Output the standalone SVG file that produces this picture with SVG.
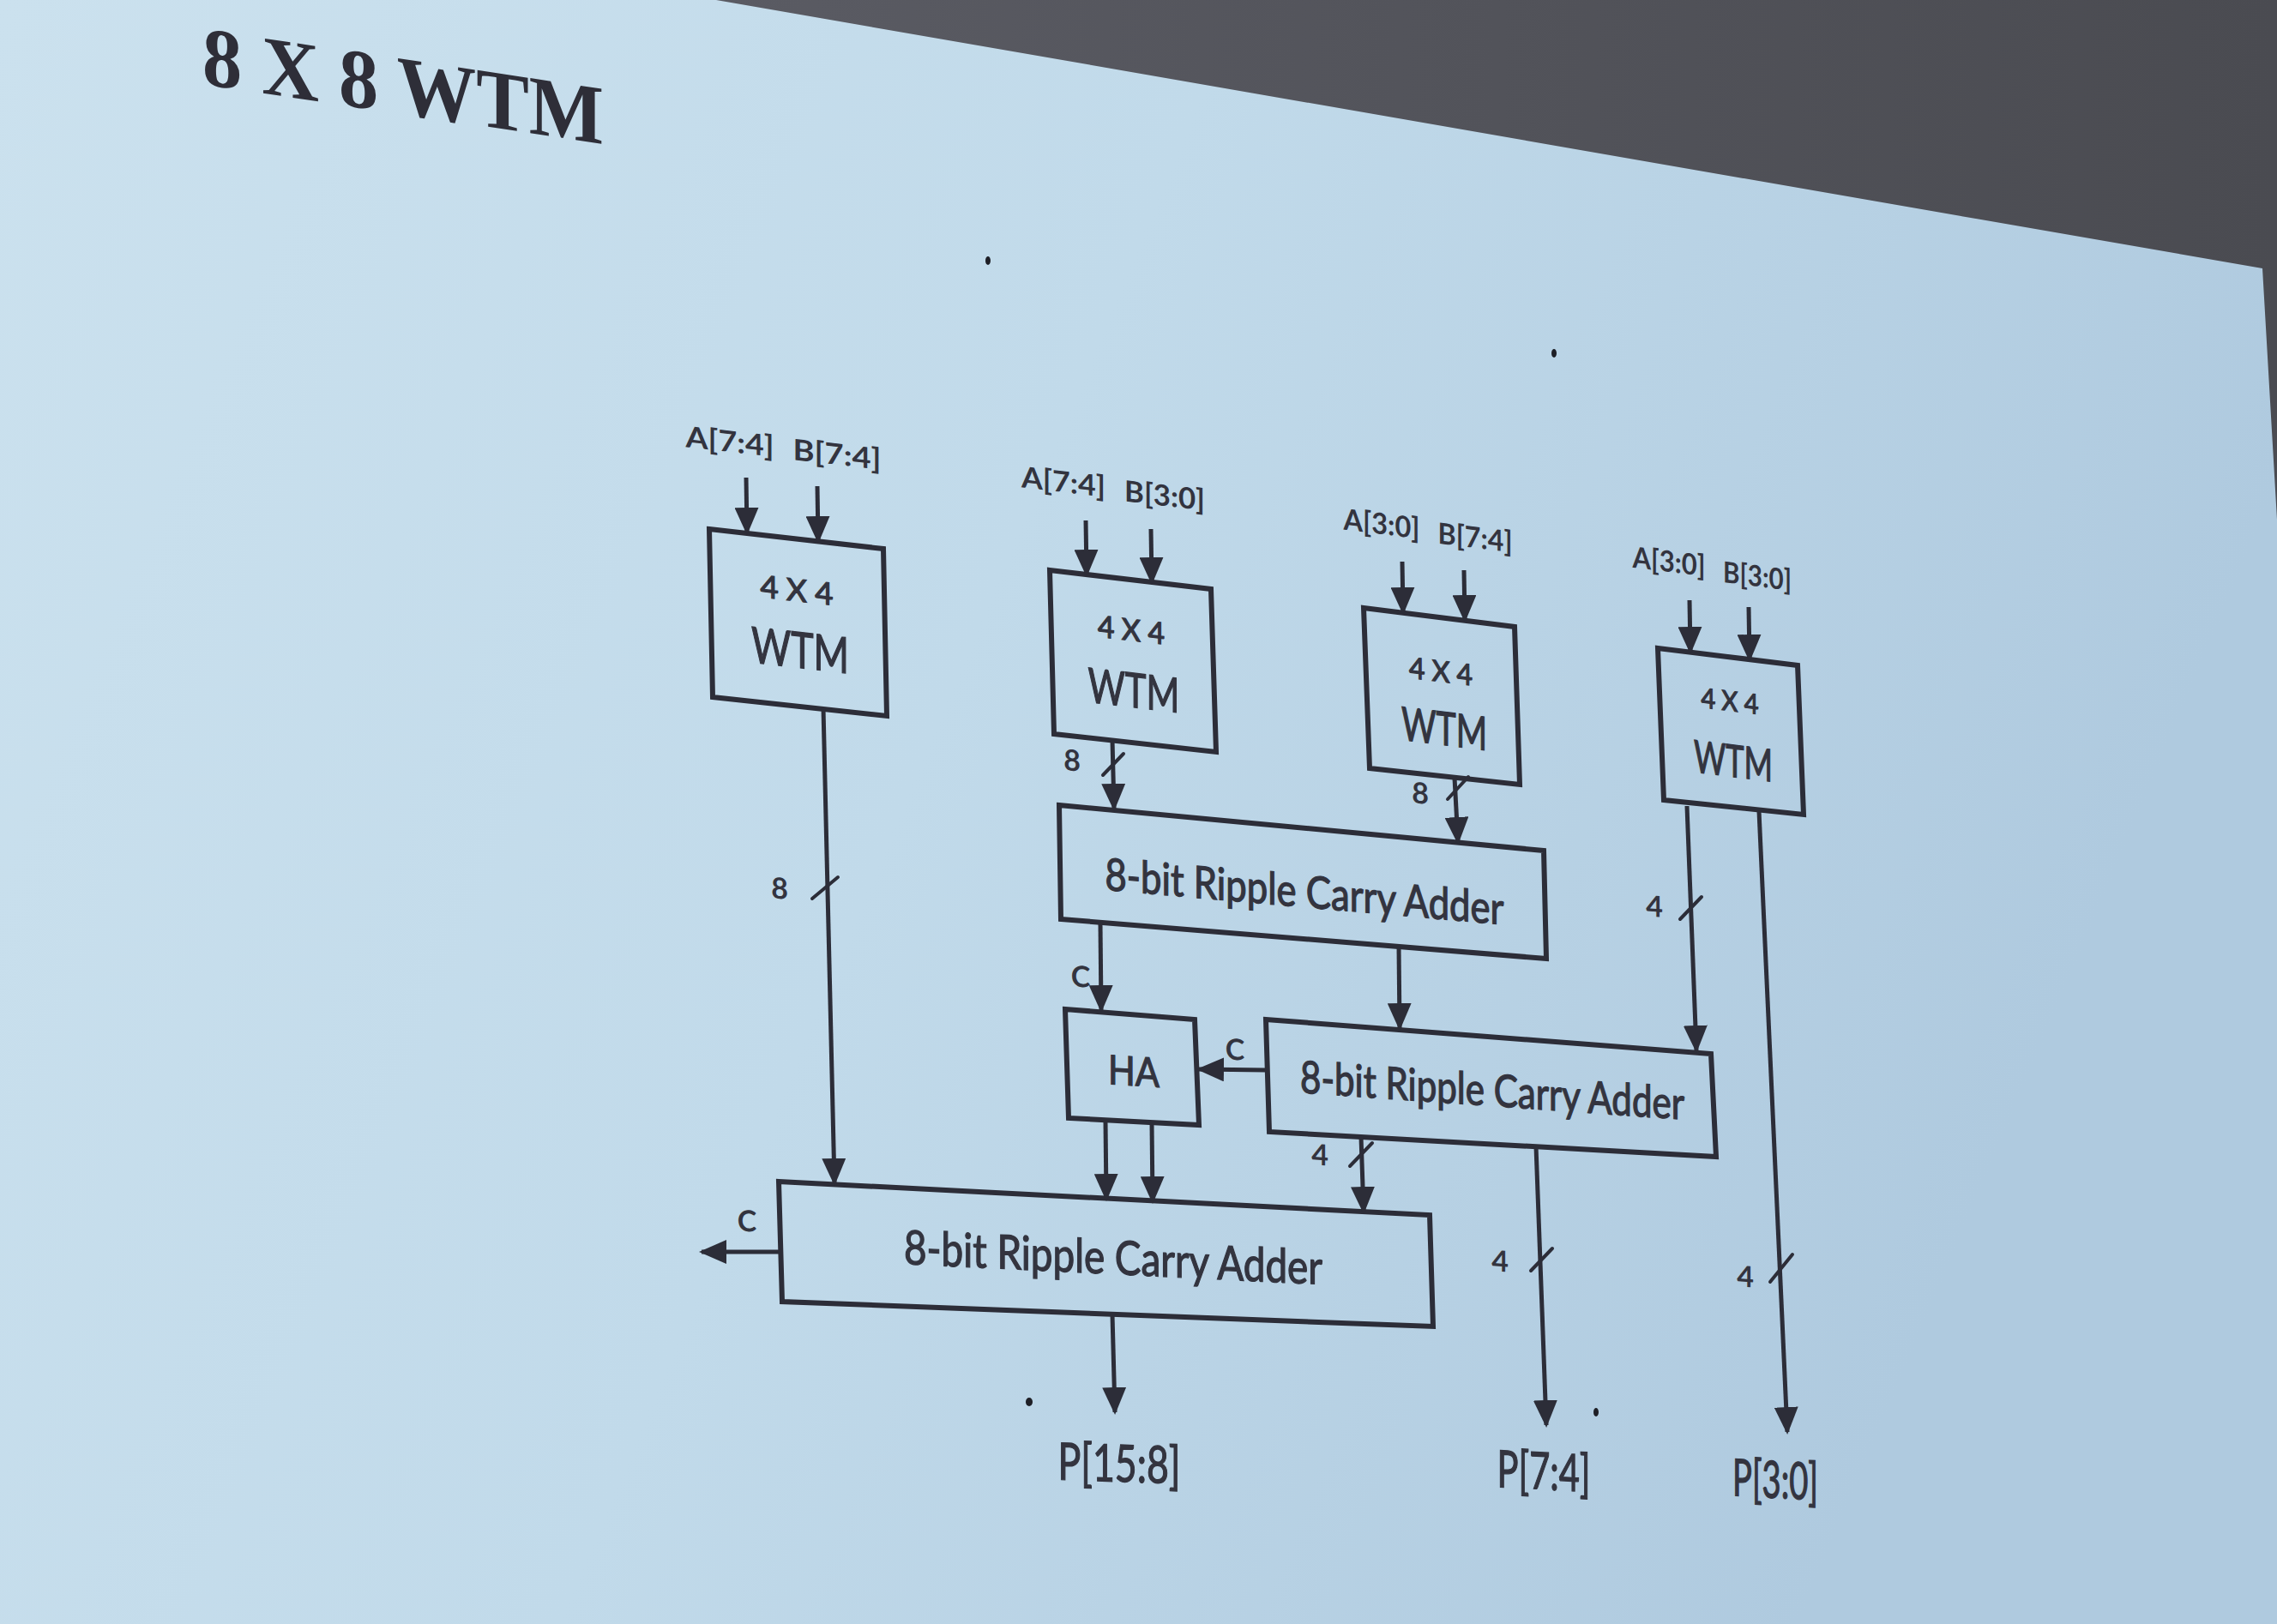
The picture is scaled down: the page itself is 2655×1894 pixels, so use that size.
<svg xmlns="http://www.w3.org/2000/svg" width="2655" height="1894" viewBox="0 0 2655 1894">
<defs>
<linearGradient id="bg" x1="0" y1="0" x2="1" y2="0.3">
<stop offset="0" stop-color="#cbe1ee"/>
<stop offset="0.5" stop-color="#c1daea"/>
<stop offset="1" stop-color="#afcadf"/>
</linearGradient>
<linearGradient id="dark" x1="0" y1="0" x2="1" y2="0">
<stop offset="0" stop-color="#5a5b63"/>
<stop offset="1" stop-color="#4a4b51"/>
</linearGradient>
<marker id="ah" markerUnits="userSpaceOnUse" markerWidth="32" markerHeight="28" viewBox="0 0 32 28" refX="29" refY="14" orient="auto">
<path d="M0,0 L32,14 L0,28 z" fill="#2c2d38"/>
</marker>
<style>
.box{fill:none;stroke:#2c2d38;stroke-width:6;stroke-linejoin:miter}
.ar{fill:none;stroke:#2c2d38;stroke-width:5;marker-end:url(#ah)}
.sl{fill:none;stroke:#2c2d38;stroke-width:4;stroke-linecap:round}
.t{font-family:Lato,"Open Sans","Liberation Sans",sans-serif;fill:#33343f;text-anchor:middle}
.lb{font-weight:bold;font-size:34px}
.big{font-weight:normal;stroke:#33343f;stroke-width:1.3px}
.title{font-family:"Liberation Serif","Times New Roman",serif;font-weight:bold;font-size:98px;fill:#2e2e38;text-anchor:middle}
</style>
</defs>

<rect x="0" y="0" width="2655" height="1894" fill="url(#bg)"/>
<polygon points="835,0 2655,0 2655,606 2638,313" fill="url(#dark)"/>

<text class="title" x="470" y="133" transform="translate(470 133) skewY(8.5) translate(-470 -133)" textLength="468" lengthAdjust="spacingAndGlyphs">8 X 8 WTM</text>

<g id="specks" fill="#1e1f26">
<ellipse cx="1152" cy="304" rx="3" ry="5"/>
<ellipse cx="1812" cy="412" rx="3" ry="5"/>
<ellipse cx="1200" cy="1635" rx="4" ry="5"/>
<ellipse cx="1861" cy="1647" rx="3" ry="5"/>
</g>

<g id="wtm1">
<polygon class="box" points="827,617 1030,640 1034,835 831,813"/>
<text class="t big" x="929" y="701" font-size="36" transform="translate(929 701) skewY(6.5) translate(-929 -701)" textLength="85" lengthAdjust="spacingAndGlyphs">4 X 4</text>
<text class="t big" x="933" y="779" font-size="58" transform="translate(933 779) skewY(6.5) translate(-933 -779)" textLength="114" lengthAdjust="spacingAndGlyphs">WTM</text>
<text class="t lb" x="851" y="527" transform="translate(851 527) skewY(6.4) translate(-851 -527)" textLength="103" lengthAdjust="spacingAndGlyphs">A[7:4]</text>
<text class="t lb" x="976" y="542" transform="translate(976 542) skewY(6.4) translate(-976 -542)" textLength="103" lengthAdjust="spacingAndGlyphs">B[7:4]</text>
</g>

<g id="wtm2">
<polygon class="box" points="1224,665 1412,687 1418,877 1229,856"/>
<text class="t big" x="1319" y="747" font-size="35" transform="translate(1319 747) skewY(6.7) translate(-1319 -747)" textLength="78" lengthAdjust="spacingAndGlyphs">4 X 4</text>
<text class="t big" x="1322" y="825" font-size="56" transform="translate(1322 825) skewY(6.7) translate(-1322 -825)" textLength="107" lengthAdjust="spacingAndGlyphs">WTM</text>
<text class="t lb" x="1240" y="574" transform="translate(1240 574) skewY(6.7) translate(-1240 -574)" textLength="98" lengthAdjust="spacingAndGlyphs">A[7:4]</text>
<text class="t lb" x="1358" y="590" transform="translate(1358 590) skewY(6.7) translate(-1358 -590)" textLength="94" lengthAdjust="spacingAndGlyphs">B[3:0]</text>
</g>

<g id="wtm3">
<polygon class="box" points="1590,709 1766,731 1772,915 1597,896"/>
<text class="t big" x="1680" y="795" font-size="34" transform="translate(1680 795) skewY(7) translate(-1680 -795)" textLength="74" lengthAdjust="spacingAndGlyphs">4 X 4</text>
<text class="t big" x="1684" y="869" font-size="54" transform="translate(1684 869) skewY(7) translate(-1684 -869)" textLength="100" lengthAdjust="spacingAndGlyphs">WTM</text>
<text class="t lb" x="1611" y="623" font-size="32" transform="translate(1611 623) skewY(7) translate(-1611 -623)" textLength="89" lengthAdjust="spacingAndGlyphs">A[3:0]</text>
<text class="t lb" x="1720" y="639" font-size="32" transform="translate(1720 639) skewY(7) translate(-1720 -639)" textLength="87" lengthAdjust="spacingAndGlyphs">B[7:4]</text>
</g>

<g id="wtm4">
<polygon class="box" points="1933,756 2096,776 2103,950 1940,933"/>
<text class="t big" x="2017" y="829" font-size="32" transform="translate(2017 829) skewY(7) translate(-2017 -829)" textLength="67" lengthAdjust="spacingAndGlyphs">4 X 4</text>
<text class="t big" x="2021" y="906" font-size="52" transform="translate(2021 906) skewY(7) translate(-2021 -906)" textLength="92" lengthAdjust="spacingAndGlyphs">WTM</text>
<text class="t lb" x="1946" y="667" font-size="31" transform="translate(1946 667) skewY(7) translate(-1946 -667)" textLength="85" lengthAdjust="spacingAndGlyphs">A[3:0]</text>
<text class="t lb" x="2049" y="684" font-size="31" transform="translate(2049 684) skewY(7) translate(-2049 -684)" textLength="80" lengthAdjust="spacingAndGlyphs">B[3:0]</text>
</g>

<g id="rca1">
<polygon class="box" points="1235,939 1800,992 1803,1118 1237,1072"/>
<text class="t big" x="1521" y="1058" font-size="52" transform="translate(1521 1058) skewY(5) translate(-1521 -1058)" textLength="465" lengthAdjust="spacingAndGlyphs">8-bit Ripple Carry Adder</text>
</g>

<g id="ha">
<polygon class="box" points="1242,1177 1393,1189 1398,1312 1246,1304"/>
<text class="t big" x="1322" y="1266" font-size="47" transform="translate(1322 1266) skewY(4) translate(-1322 -1266)" textLength="60" lengthAdjust="spacingAndGlyphs">HA</text>
</g>

<g id="rca2">
<polygon class="box" points="1476,1189 1995,1229 2001,1349 1480,1320"/>
<text class="t big" x="1740" y="1290" font-size="52" transform="translate(1740 1290) skewY(4) translate(-1740 -1290)" textLength="448" lengthAdjust="spacingAndGlyphs">8-bit Ripple Carry Adder</text>
</g>

<g id="rca3">
<polygon class="box" points="908,1378 1667,1417 1671,1547 912,1518"/>
<text class="t big" x="1298" y="1486" font-size="55" transform="translate(1298 1486) skewY(2.8) translate(-1298 -1486)" textLength="488" lengthAdjust="spacingAndGlyphs">8-bit Ripple Carry Adder</text>
</g>

<g id="outputs">
<text class="t big" x="1305" y="1728" font-size="60" transform="translate(1305 1728) skewY(2) translate(-1305 -1728)" textLength="143" lengthAdjust="spacingAndGlyphs">P[15:8]</text>
<text class="t big" x="1800" y="1737" font-size="60" transform="translate(1800 1737) skewY(3) translate(-1800 -1737)" textLength="109" lengthAdjust="spacingAndGlyphs">P[7:4]</text>
<text class="t big" x="2070" y="1747" font-size="60" transform="translate(2070 1747) skewY(3) translate(-2070 -1747)" textLength="100" lengthAdjust="spacingAndGlyphs">P[3:0]</text>
</g>

<g id="connectors">
<line class="ar" x1="870" y1="557" x2="871" y2="621"/>
<line class="ar" x1="953" y1="567" x2="954" y2="631"/>
<line class="ar" x1="1266" y1="607" x2="1267" y2="670"/>
<line class="ar" x1="1342" y1="617" x2="1343" y2="679"/>
<line class="ar" x1="1635" y1="655" x2="1636" y2="714"/>
<line class="ar" x1="1707" y1="665" x2="1708" y2="723"/>
<line class="ar" x1="1970" y1="700" x2="1971" y2="760"/>
<line class="ar" x1="2039" y1="708" x2="2040" y2="769"/>

<line class="ar" x1="960" y1="826" x2="973" y2="1380"/>
<line class="sl" x1="947" y1="1048" x2="977" y2="1023"/>
<text class="t lb" x="909" y="1048" font-size="36" transform="translate(909 1048) skewY(5) translate(-909 -1048)">8</text>

<line class="ar" x1="1297" y1="863" x2="1299" y2="943"/>
<line class="sl" x1="1286" y1="904" x2="1310" y2="879"/>
<text class="t lb" x="1250" y="899" font-size="34" transform="translate(1250 899) skewY(5) translate(-1250 -899)">8</text>

<line class="ar" x1="1696" y1="907" x2="1700" y2="982"/>
<line class="sl" x1="1688" y1="932" x2="1712" y2="906"/>
<text class="t lb" x="1656" y="937" font-size="34" transform="translate(1656 937) skewY(5) translate(-1656 -937)">8</text>

<line class="ar" x1="1967" y1="940" x2="1978" y2="1225"/>
<line class="sl" x1="1959" y1="1072" x2="1984" y2="1046"/>
<text class="t lb" x="1929" y="1069" font-size="34" transform="translate(1929 1069) skewY(5) translate(-1929 -1069)">4</text>

<line class="ar" x1="2051" y1="946" x2="2084" y2="1670"/>
<line class="sl" x1="2064" y1="1495" x2="2090" y2="1463"/>
<text class="t lb" x="2035" y="1501" font-size="34" transform="translate(2035 1501) skewY(4) translate(-2035 -1501)">4</text>

<line class="ar" x1="1283" y1="1077" x2="1284" y2="1178"/>
<text class="t lb" x="1260" y="1151" font-size="32" transform="translate(1260 1151) skewY(4) translate(-1260 -1151)">C</text>

<line class="ar" x1="1631" y1="1104" x2="1632" y2="1199"/>

<line class="ar" x1="1476" y1="1248" x2="1398" y2="1247"/>
<text class="t lb" x="1440" y="1236" font-size="32" transform="translate(1440 1236) skewY(4) translate(-1440 -1236)">C</text>

<line class="ar" x1="1289" y1="1308" x2="1290" y2="1398"/>
<line class="ar" x1="1343" y1="1310" x2="1344" y2="1401"/>

<line class="ar" x1="1587" y1="1326" x2="1590" y2="1413"/>
<line class="sl" x1="1574" y1="1360" x2="1600" y2="1333"/>
<text class="t lb" x="1539" y="1359" font-size="34" transform="translate(1539 1359) skewY(4) translate(-1539 -1359)">4</text>

<line class="ar" x1="1791" y1="1337" x2="1803" y2="1662"/>
<line class="sl" x1="1785" y1="1482" x2="1810" y2="1456"/>
<text class="t lb" x="1749" y="1483" font-size="34" transform="translate(1749 1483) skewY(4) translate(-1749 -1483)">4</text>

<line class="ar" x1="911" y1="1460" x2="818" y2="1460"/>
<text class="t lb" x="871" y="1436" font-size="32" transform="translate(871 1436) skewY(3) translate(-871 -1436)">C</text>

<line class="ar" x1="1297" y1="1533" x2="1300" y2="1647"/>
</g>
</svg>
